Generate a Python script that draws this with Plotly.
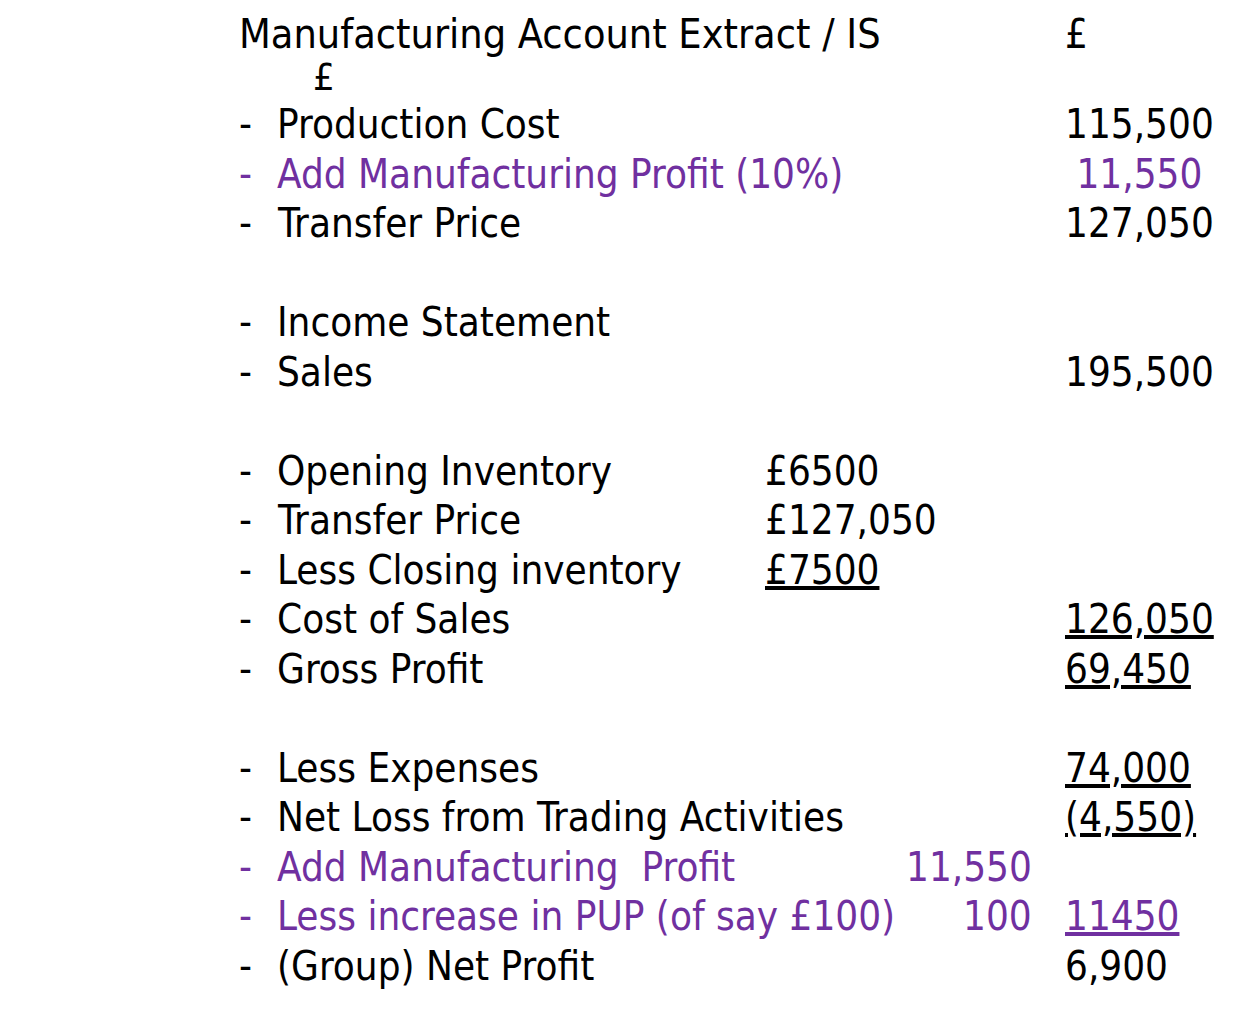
import plotly.graph_objects as go

# ---- data ----
rows = [0, 1, 2, 3, 4, 6, 7, 9, 10, 11, 12, 13, 15, 16, 17, 18, 19]
labels = [
    "Manufacturing Account Extract / IS", "£",
    "Production Cost", "Add Manufacturing Profit (10%)", "Transfer Price",
    "Income Statement", "Sales",
    "Opening Inventory", "Transfer Price", "Less Closing inventory",
    "Cost of Sales", "Gross Profit",
    "Less Expenses", "Net Loss from Trading Activities",
    "Add Manufacturing  Profit", "Less increase in PUP (of say £100)",
    "(Group) Net Profit",
]
bullets = [False, False] + [True] * 15
purple_rows = {3, 17, 18}
mid_values = {9: "£6500", 10: "£127,050", 11: "<u>£7500</u>"}
mid2_values = {17: "11,550", 18: "100"}
right_values = {0: "£", 2: "115,500", 3: " 11,550", 4: "127,050", 7: "195,500",
                12: "<u>126,050</u>", 13: "<u>69,450</u>", 15: "<u>74,000</u>",
                16: "<u>(4,550)</u>", 18: "<u>11450</u>", 19: "6,900"}

# ---- style ----
FONT = "Liberation Sans Narrow, DejaVu Sans Condensed, Arial Narrow, sans-serif"
SIZE = 40
BLACK = "#000000"
PURPLE = "#7030A0"
W, H = 1251, 1017
DX, DY = -10, -8


def ypos(r):
    if r == 0:
        return 34
    if r == 1:
        return 77
    return 124 + (r - 2) * 49.5


fig = go.Figure()
ann = []
for r, lab, b in zip(rows, labels, bullets):
    col = PURPLE if r in purple_rows else BLACK
    if r == 1:
        ann.append(dict(x=314, y=ypos(r), text=lab, xanchor="left", font=dict(size=38)))
    elif b:
        ann.append(dict(x=240, y=ypos(r), text="-", xanchor="left", font=dict(color=col)))
        ann.append(dict(x=278, y=ypos(r), text=lab, xanchor="left", font=dict(color=col)))
    else:
        ann.append(dict(x=240, y=ypos(r), text=lab, xanchor="left",
                        font=dict(color=col, size=41)))
for r, v in mid_values.items():
    ann.append(dict(x=766, y=ypos(r), text=v, xanchor="left"))
for r, v in mid2_values.items():
    ann.append(dict(x=1025, y=ypos(r), text=v, xanchor="right", font=dict(color=PURPLE)))
for r, v in right_values.items():
    col = PURPLE if r in purple_rows else BLACK
    ann.append(dict(x=1066, y=ypos(r), text=v, xanchor="left", font=dict(color=col)))

for a in ann:
    f = dict(family=FONT, size=SIZE, color=BLACK)
    f.update(a.get("font", {}))
    a["font"] = f
    a.update(xref="x", yref="y", showarrow=False, yanchor="middle",
             xshift=DX + (10 if a["xanchor"] == "right" else 0), yshift=-DY,
             borderpad=0)

fig.update_layout(
    width=W, height=H,
    margin=dict(l=0, r=0, t=0, b=0),
    paper_bgcolor="white", plot_bgcolor="white",
    xaxis=dict(range=[0, W], visible=False, fixedrange=True),
    yaxis=dict(range=[H, 0], visible=False, fixedrange=True),
    annotations=ann,
    showlegend=False,
)
fig.write_html("out.html")
